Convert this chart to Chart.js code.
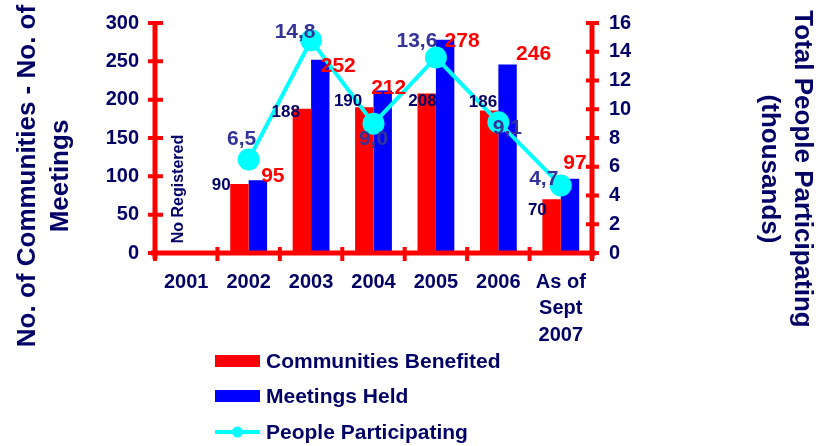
<!DOCTYPE html>
<html>
<head>
<meta charset="utf-8">
<script src="https://cdn.jsdelivr.net/npm/chart.js@4/dist/chart.umd.min.js"></script>
<style>
body{margin:0;background:#fff;}
#wrap{width:829px;height:446px;}
</style>
</head>
<body>
<div id="wrap"><canvas id="chart" width="829" height="446"></canvas></div>
<script>

/* data */

const years = ["2001","2002","2003","2004","2005","2006",["As of","Sept","2007"]];
const communities = [0, 90, 188, 190, 208, 186, 70];
const meetings = [0, 95, 252, 212, 278, 246, 97];
const people = [null, 6.5, 14.8, 9.0, 13.6, 9.1, 4.7];

const leftMax = 300, leftStep = 50;
const rightMax = 16, rightStep = 2;

const seriesNames = ["Communities Benefited","Meetings Held","People Participating"];
const noDataText = "No Registered";
const leftTitle = ["No. of Communities - No. of","Meetings"];
const rightTitle = ["Total People Participating","(thousands)"];


/* colours */

const RED = "#ff0000";
const BLUE = "#0000ff";
const CYAN = "#00ffff";
const NAVY = "#000066";
const PURPLE = "#333399";
const FONT = "'Liberation Sans', Arial, sans-serif";

Chart.defaults.font.family = FONT;
Chart.defaults.font.weight = "bold";
Chart.defaults.color = NAVY;


/* hand placed label nudges, like the original slide */

const nudge = {
communities:[[-9,1],[-7,3],[-7,-6],[5,8],[3,-8],[-5,11]],
meetings:[[15,-4],[18,6],[6,-2],[17,1],[26,-10],[5,-15]],
people:[[-7,-20],[-16,-8],[0,16],[-19,-16],[9,6],[-17,-6]]
};


/* red axes with crossing ticks */

const redAxes = {
id:"redAxes",
afterDatasetsDraw(chart){

const ctx = chart.ctx;
const a = chart.chartArea;
const sy = chart.scales.y, sy1 = chart.scales.y1;

ctx.save();
ctx.strokeStyle = RED;
ctx.lineCap = "butt";

ctx.lineWidth = 5;
ctx.beginPath();
ctx.moveTo(a.left, a.top - 2); ctx.lineTo(a.left, a.bottom + 6);
ctx.moveTo(a.right, a.top - 2); ctx.lineTo(a.right, a.bottom + 6);
ctx.moveTo(a.left - 4, a.bottom); ctx.lineTo(a.right + 4, a.bottom);
ctx.stroke();

ctx.lineWidth = 4;
ctx.beginPath();
sy.ticks.forEach(t => {
let py = sy.getPixelForValue(t.value);
ctx.moveTo(a.left - 7, py); ctx.lineTo(a.left + 8, py);
});
sy1.ticks.forEach(t => {
let py = sy1.getPixelForValue(t.value);
ctx.moveTo(a.right - 6, py); ctx.lineTo(a.right + 7, py);
});
let n = years.length;
for(let i = 0; i <= n; i++){
let px = a.left + i * a.width / n;
ctx.moveTo(px, a.bottom - 6); ctx.lineTo(px, a.bottom + 8);
}
ctx.stroke();

/* value labels */

ctx.textAlign = "center";
ctx.textBaseline = "middle";

let redBars = chart.getDatasetMeta(0).data;
let blueBars = chart.getDatasetMeta(1).data;
let points = chart.getDatasetMeta(2).data;

ctx.font = "bold 17px " + FONT;
ctx.fillStyle = NAVY;
communities.forEach((v, i) => {
if(!v) return;
let b = redBars[i];
ctx.fillText(v, b.x - b.width / 2 + nudge.communities[i-1][0], b.y + nudge.communities[i-1][1]);
});

ctx.font = "bold 21px " + FONT;
ctx.fillStyle = RED;
meetings.forEach((v, i) => {
if(!v) return;
let b = blueBars[i];
ctx.fillText(v, b.x + nudge.meetings[i-1][0], b.y + nudge.meetings[i-1][1]);
});

ctx.font = "bold 21px " + FONT;
ctx.fillStyle = PURPLE;
people.forEach((v, i) => {
if(v === null) return;
let p = points[i];
ctx.fillText(v.toFixed(1).replace(".", ","), p.x + nudge.people[i-1][0], p.y + nudge.people[i-1][1]);
});

ctx.restore();
}
};


/* axis titles, the empty year note and the legend */

const extras = {
id:"extras",
afterDraw(chart){

const ctx = chart.ctx;
const a = chart.chartArea;
const sx = chart.scales.x;

ctx.save();
ctx.fillStyle = NAVY;
ctx.textAlign = "center";
ctx.textBaseline = "alphabetic";

/* left title */
ctx.font = "bold 26px " + FONT;
ctx.save();
ctx.translate(0, 176);
ctx.rotate(-Math.PI / 2);
ctx.fillText(leftTitle[0], 0, 35);
ctx.fillText(leftTitle[1], 0, 68);
ctx.restore();

/* right title */
ctx.save();
ctx.translate(829, 169);
ctx.rotate(Math.PI / 2);
ctx.fillText(rightTitle[0], 0, 34);
ctx.fillText(rightTitle[1], 0, 67);
ctx.restore();

/* no data note in 2001 */
ctx.font = "bold 16px " + FONT;
ctx.textBaseline = "middle";
ctx.save();
ctx.translate(sx.getPixelForValue(0) - 8, a.bottom - 64);
ctx.rotate(-Math.PI / 2);
ctx.fillText(noDataText, 0, 0);
ctx.restore();

/* legend */
let lx = 215, lw = 45;
let rows = [361, 396, 432];
ctx.font = "bold 21px " + FONT;
ctx.textAlign = "left";

ctx.fillStyle = RED;
ctx.fillRect(lx, rows[0] - 6, lw, 12);
ctx.fillStyle = BLUE;
ctx.fillRect(lx, rows[1] - 6, lw, 12);
ctx.strokeStyle = CYAN;
ctx.lineWidth = 4;
ctx.beginPath();
ctx.moveTo(lx, rows[2]); ctx.lineTo(lx + lw, rows[2]);
ctx.stroke();
ctx.fillStyle = CYAN;
ctx.beginPath();
ctx.arc(lx + lw / 2, rows[2], 5.5, 0, Math.PI * 2);
ctx.fill();

ctx.fillStyle = NAVY;
seriesNames.forEach((s, i) => ctx.fillText(s, lx + lw + 6, rows[i] + 1));

ctx.restore();
}
};


/* chart */

new Chart(document.getElementById("chart"),{

type:"bar",

data:{
labels:years,
datasets:[{
label:seriesNames[0],
data:communities,
backgroundColor:RED,
yAxisID:"y",
order:2
},{
label:seriesNames[1],
data:meetings,
backgroundColor:BLUE,
yAxisID:"y",
order:2
},{
type:"line",
label:seriesNames[2],
data:people,
borderColor:CYAN,
backgroundColor:CYAN,
borderWidth:4,
pointRadius:11,
pointBorderWidth:0,
pointBackgroundColor:CYAN,
yAxisID:"y1",
order:1
}]
},

options:{
responsive:false,
animation:false,
devicePixelRatio:1,
datasets:{bar:{categoryPercentage:0.59, barPercentage:1, borderWidth:0}},
layout:{padding:{top:23, left:0, right:0, bottom:0}},
plugins:{legend:{display:false}, tooltip:{enabled:false}},
scales:{
x:{
grid:{display:false, drawTicks:false},
border:{display:false},
ticks:{font:{size:20, weight:"bold", lineHeight:1.32}, color:NAVY, padding:16, maxRotation:0, autoSkip:false},
afterFit(s){ s.height = 193; }
},
y:{
position:"left",
min:0, max:leftMax,
grid:{display:false, drawTicks:false},
border:{display:false},
ticks:{stepSize:leftStep, font:{size:20, weight:"bold"}, color:NAVY, padding:16},
afterFit(s){ s.width = 155; s.paddingTop = 0; s.paddingBottom = 0; }
},
y1:{
position:"right",
min:0, max:rightMax,
grid:{display:false, drawTicks:false},
border:{display:false},
ticks:{stepSize:rightStep, font:{size:20, weight:"bold"}, color:NAVY, padding:17},
afterFit(s){ s.width = 237; s.paddingTop = 0; s.paddingBottom = 0; }
}
}
},

plugins:[redAxes, extras]

});

</script>
</body>
</html>
